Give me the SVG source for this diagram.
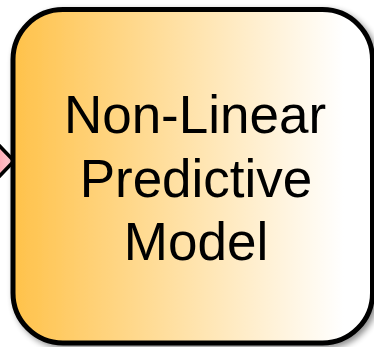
<svg xmlns="http://www.w3.org/2000/svg" width="374" height="347" viewBox="0 0 374 347">
<defs>
<linearGradient id="g" x1="0" y1="0" x2="1" y2="0">
<stop offset="0" stop-color="#FFC24A"/>
<stop offset="0.92" stop-color="#FFFFFF"/>
</linearGradient>
<linearGradient id="pk" x1="0" y1="0" x2="1" y2="0">
<stop offset="0" stop-color="#FF9AA8"/>
<stop offset="1" stop-color="#FFD0D6"/>
</linearGradient>
<filter id="sh" x="-10%" y="-10%" width="120%" height="120%">
<feGaussianBlur in="SourceAlpha" stdDeviation="3"/>
<feOffset dx="3" dy="3" result="b"/>
<feComponentTransfer><feFuncA type="linear" slope="0.45"/></feComponentTransfer>
<feMerge><feMergeNode/><feMergeNode in="SourceGraphic"/></feMerge>
</filter>
<style>
.t{font-family:"Liberation Sans",Arial,sans-serif;font-size:53px;fill:#000;text-anchor:middle}
</style>
</defs>
<rect width="374" height="347" fill="#fff"/>
<g id="connectors">
<path d="M-8,138 L14,161 L-8,184 Z" fill="url(#pk)" stroke="#000" stroke-width="3.5" stroke-linejoin="miter"/>
</g>
<g id="model">
<rect x="13" y="9.5" width="359.5" height="333.5" rx="50" ry="50" fill="url(#g)" stroke="#000" stroke-width="5" filter="url(#sh)"/>
<text class="t" x="195" y="133">Non-Linear</text>
<text class="t" x="196" y="197">Predictive</text>
<text class="t" x="196" y="260">Model</text>
</g>
</svg>
